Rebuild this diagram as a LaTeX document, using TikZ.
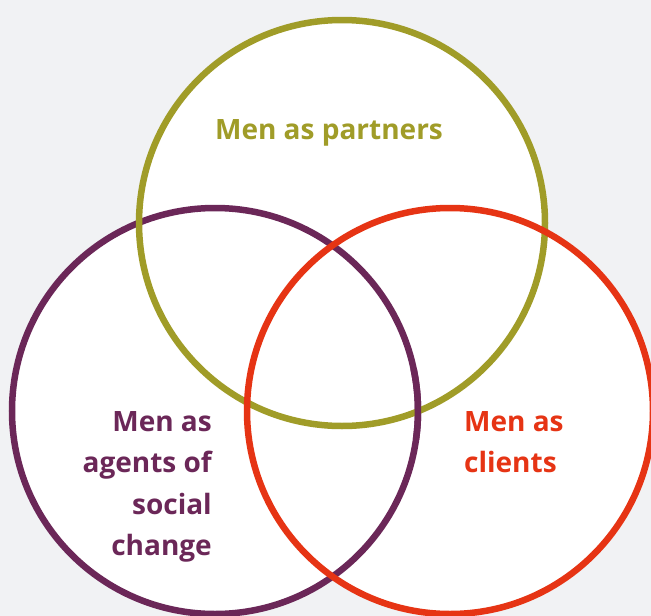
\documentclass[tikz,border=0pt]{standalone}
\usepackage{fontspec}
\setmainfont{Open Sans}
\definecolor{bg}{HTML}{F1F2F4}
\definecolor{olive}{HTML}{A09C28}
\definecolor{plum}{HTML}{6B2758}
\definecolor{redc}{HTML}{E63414}
\tikzset{
  ring/.style={line width=6.5pt},
  lbl/.style={inner sep=0pt, font=\fontsize{28}{41.5}\selectfont\bfseries}
}
\begin{document}
\begin{tikzpicture}[x=1pt,y=-1pt]
\useasboundingbox (0,0) rectangle (651,616);
\fill[bg] (0,0) rectangle (651,616);
\begin{scope}
\clip (0,0) rectangle (651,616);
% fills
\fill[white] (342,223) circle (203);
\fill[white] (215,411) circle (203);
\fill[white] (450,411) circle (203);
% strokes
\draw[ring, plum] (215,411) circle (203);
\draw[ring, olive] (342,223) circle (203);
\draw[ring, redc] (450,411) circle (203);
\draw[ring, plum] (215,411) ++(-12:203) arc[start angle=-12, end angle=8, radius=203];
\end{scope}
\node[lbl, olive, anchor=base] (partners) at (329,139) {Men as partners};
\node[lbl, plum, anchor=north east, align=right] (agents) at (212,411) {Men as\\agents of\\social\\change};
\node[lbl, redc, anchor=north west, align=left] (clients) at (464,411) {Men as\\clients};
\end{tikzpicture}
\end{document}
